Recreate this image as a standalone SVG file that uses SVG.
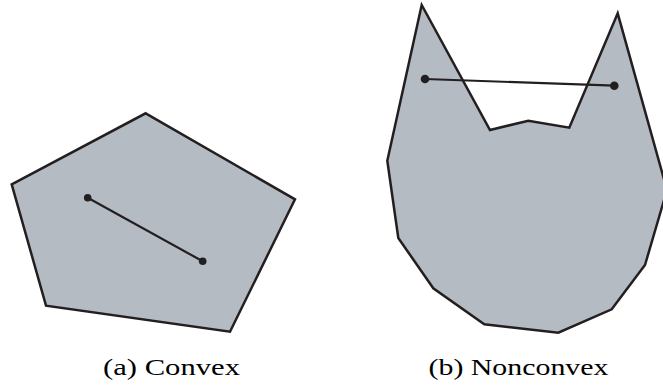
<svg xmlns="http://www.w3.org/2000/svg" width="663" height="385" viewBox="0 0 663 385">
<style>
.poly{fill:#b5bbc3;stroke:#231f20;stroke-width:2.5;stroke-linejoin:miter}
.seg{stroke:#231f20;stroke-width:2.2;fill:none}
.dot{fill:#231f20}
.cap{font-family:"Liberation Serif","DejaVu Serif",serif;font-size:23px;fill:#000}
</style>
<rect width="663" height="385" fill="#fff"/>
<g id="convex">
<polygon class="poly" points="145.7,113.3 295,199.3 230,331.7 46,305.7 11.7,184.3"/>
</g>
<g id="nonconvex">
<polygon class="poly" points="421.7,5 490,130 528.3,120.7 569.3,127.7 617.7,13.3 667,190 645,265 611.7,309.3 558.3,332.7 484.3,324.3 433.3,288.3 398.3,238 387.3,160.7"/>
</g>
<g id="connectors">
<line class="seg" x1="87.7" y1="197.7" x2="202.7" y2="261.3"/>
<circle class="dot" cx="87.7" cy="197.7" r="3.8"/>
<circle class="dot" cx="202.7" cy="261.3" r="3.8"/>
<line class="seg" x1="425" y1="79" x2="614.3" y2="85.7"/>
<circle class="dot" cx="425" cy="79" r="4.3"/>
<circle class="dot" cx="614.3" cy="85.7" r="4.3"/>
</g>
<g id="captions">
<text class="cap" x="103" y="375" textLength="137" lengthAdjust="spacingAndGlyphs">(a) Convex</text>
<text class="cap" x="428.5" y="375" textLength="180" lengthAdjust="spacingAndGlyphs">(b) Nonconvex</text>
</g>
</svg>
